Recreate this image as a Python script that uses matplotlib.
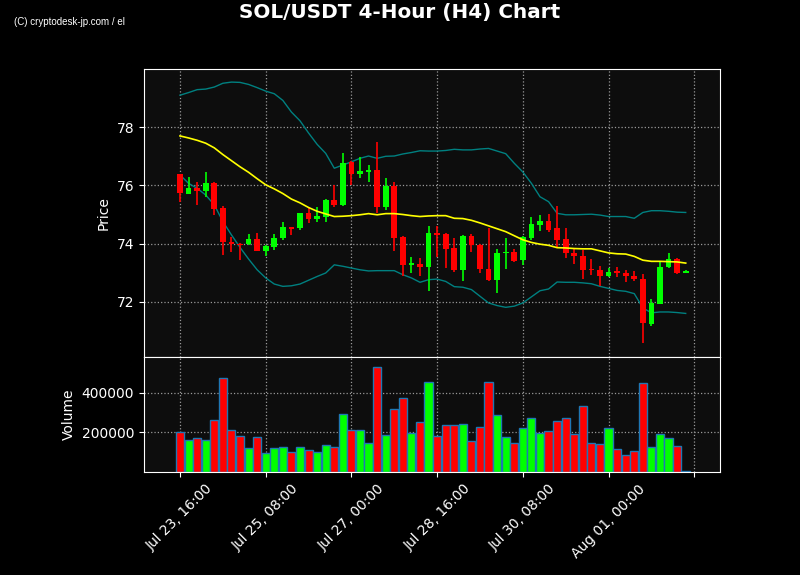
"""
SOL/USDT 4-hour candlestick chart with Bollinger bands, moving average and volume.
"""
import numpy as np
import pandas as pd
import matplotlib
matplotlib.use("Agg")
import matplotlib.pyplot as plt

START = "2025-07-23 16:00"

OPEN = [76.39, 75.72, 75.91, 75.82, 76.08, 75.23, 74.06, 74.00, 73.97, 74.16,
        73.76, 73.90, 74.18, 74.57, 74.52, 75.05, 74.85, 74.93, 75.50, 75.34,
        76.80, 76.40, 76.47, 76.53, 75.27, 75.99, 74.24, 73.27, 73.31, 73.18,
        74.38, 74.34, 73.86, 73.08, 74.27, 73.96, 73.14, 72.74, 73.68, 73.72,
        73.42, 74.20, 74.65, 74.79, 74.54, 74.16, 73.67, 73.58, 73.14, 73.10,
        72.87, 73.05, 73.00, 72.90, 72.79, 71.22, 71.94, 73.19, 73.47, 72.99]
HIGH = [76.40, 76.28, 76.13, 76.45, 76.10, 75.29, 74.22, 74.01, 74.34, 74.36,
        73.95, 74.34, 74.74, 74.58, 75.06, 75.22, 75.27, 75.52, 76.01, 77.10,
        76.83, 76.98, 76.69, 77.50, 76.24, 76.13, 74.26, 73.55, 73.50, 74.59,
        74.59, 74.36, 74.18, 74.30, 74.34, 73.98, 74.53, 73.81, 74.19, 73.83,
        74.25, 74.92, 74.99, 75.02, 75.29, 74.53, 73.81, 73.79, 73.47, 73.23,
        73.15, 73.20, 73.10, 73.06, 72.94, 72.10, 73.38, 73.67, 73.52, 73.09]
LOW = [75.43, 75.70, 75.32, 75.61, 74.98, 73.61, 73.71, 73.45, 73.95, 73.75,
       73.56, 73.79, 74.14, 74.29, 74.47, 74.72, 74.73, 74.73, 75.26, 75.30,
       76.01, 76.26, 76.13, 75.04, 75.16, 73.75, 72.87, 72.98, 72.87, 72.37,
       73.54, 73.16, 73.01, 72.72, 73.71, 72.99, 72.72, 72.30, 73.13, 73.38,
       73.27, 74.13, 74.43, 74.39, 73.90, 73.50, 73.31, 72.78, 72.92, 72.55,
       72.85, 72.85, 72.67, 72.72, 70.59, 71.16, 71.92, 73.17, 72.96, 72.98]
CLOSE = [75.75, 75.91, 75.82, 76.08, 75.20, 74.04, 73.97, 73.94, 74.16, 73.76,
         73.92, 74.20, 74.56, 74.51, 75.05, 74.85, 74.95, 75.50, 75.34, 76.77,
         76.40, 76.49, 76.53, 75.27, 75.99, 74.18, 73.27, 73.32, 73.18, 74.37,
         74.31, 73.83, 73.08, 74.27, 73.94, 73.11, 72.74, 73.68, 73.72, 73.40,
         74.23, 74.68, 74.79, 74.47, 74.13, 73.67, 73.56, 73.08, 73.08, 72.87,
         73.03, 72.98, 72.87, 72.78, 71.26, 71.96, 73.19, 73.47, 72.99, 73.07]
VOLUME = [203e3, 163e3, 173e3, 160e3, 263e3, 473e3, 213e3, 183e3, 120e3, 178e3,
          98e3, 123e3, 128e3, 103e3, 128e3, 113e3, 103e3, 138e3, 128e3, 293e3,
          213e3, 213e3, 148e3, 528e3, 188e3, 318e3, 373e3, 198e3, 253e3, 453e3,
          183e3, 238e3, 238e3, 243e3, 158e3, 228e3, 453e3, 288e3, 178e3, 148e3,
          223e3, 273e3, 198e3, 208e3, 258e3, 273e3, 193e3, 333e3, 148e3, 143e3,
          223e3, 118e3, 88e3, 108e3, 448e3, 128e3, 193e3, 173e3, 133e3, 4e3]

MA = [77.70, 77.63, 77.55, 77.45, 77.29, 77.06, 76.85, 76.64, 76.45, 76.23,
      76.02, 75.88, 75.72, 75.53, 75.40, 75.24, 75.11, 75.02, 74.93, 74.94,
      74.96, 74.99, 75.03, 74.99, 75.03, 75.03, 75.00, 74.96, 74.93, 74.95,
      74.96, 74.96, 74.87, 74.86, 74.80, 74.71, 74.61, 74.51, 74.41, 74.27,
      74.13, 74.04, 73.98, 73.94, 73.86, 73.85, 73.83, 73.82, 73.82, 73.75,
      73.68, 73.65, 73.64, 73.56, 73.43, 73.39, 73.39, 73.38, 73.37, 73.33]
UPPER = [79.10, 79.19, 79.29, 79.31, 79.38, 79.51, 79.55, 79.54, 79.47, 79.36,
         79.24, 79.15, 78.92, 78.52, 78.22, 77.80, 77.41, 77.10, 76.59, 76.70,
         76.81, 76.93, 77.01, 76.93, 77.00, 77.01, 77.08, 77.13, 77.19, 77.18,
         77.18, 77.20, 77.24, 77.22, 77.22, 77.25, 77.27, 77.18, 77.09, 76.76,
         76.46, 76.07, 75.61, 75.44, 75.04, 74.99, 74.99, 75.00, 75.01, 74.98,
         74.93, 74.93, 74.93, 74.87, 75.07, 75.13, 75.13, 75.11, 75.08, 75.07]
LOWER = [76.36, 76.07, 75.90, 75.67, 75.33, 74.76, 74.30, 73.87, 73.47, 73.10,
         72.82, 72.61, 72.53, 72.55, 72.61, 72.74, 72.87, 72.99, 73.27, 73.22,
         73.16, 73.10, 73.06, 73.07, 73.07, 73.07, 72.93, 72.82, 72.67, 72.76,
         72.78, 72.70, 72.52, 72.50, 72.42, 72.19, 71.96, 71.87, 71.81, 71.85,
         71.96, 72.17, 72.38, 72.44, 72.68, 72.67, 72.67, 72.65, 72.62, 72.53,
         72.46, 72.39, 72.36, 72.28, 71.79, 71.62, 71.65, 71.65, 71.63, 71.60]

UP_COLOR = "#00ff00"
DOWN_COLOR = "#ff0000"
BG = "#0d0d0d"

dates = pd.date_range(START, periods=len(CLOSE), freq="4h")
x = np.arange(len(CLOSE))
o, h, l, c = map(np.array, (OPEN, HIGH, LOW, CLOSE))
up = c >= o
colors = np.where(up, UP_COLOR, DOWN_COLOR)

fig = plt.figure(figsize=(8, 5.75), dpi=100, facecolor="black")
ax = fig.add_axes([0.18, 0.379, 0.72, 0.501])
axv = fig.add_axes([0.18, 0.179, 0.72, 0.200], sharex=ax)

for a in (ax, axv):
    a.set_facecolor(BG)
    for s in a.spines.values():
        s.set_color("white")
    a.tick_params(colors="white", labelsize=10)
    a.grid(True, linestyle=":", color="#999999", linewidth=0.9)
    a.set_axisbelow(True)

# candles
ax.vlines(x, l, h, colors=colors, linewidth=1.2, zorder=2)
ax.bar(x, np.abs(c - o), bottom=np.minimum(o, c), width=0.66,
       color=colors, zorder=3)
ax.plot(x, UPPER, color="#008080", linewidth=1, zorder=1)
ax.plot(x, LOWER, color="#008080", linewidth=1, zorder=1)
ax.plot(x, MA, color="#ffff00", linewidth=1.2, zorder=4)

ax.set_ylim(70.1, 80.0)
ax.set_yticks([72, 74, 76, 78])
ax.set_ylabel("Price", color="white", fontsize=10)
ax.tick_params(axis="x", labelbottom=False, length=0)

# volume
axv.bar(x, VOLUME, width=0.95, color=colors, edgecolor="#1f77b4", linewidth=1)
axv.set_ylim(0, 580000)
axv.set_yticks([200000, 400000])
axv.set_yticklabels(["200000", "400000"])
axv.set_ylabel("Volume", color="white", fontsize=10)

ticks = np.arange(0, 61, 10)
labels = [dates[i].strftime("%b %d, %H:%M") if i < len(dates) else "" for i in ticks]
axv.set_xticks(ticks)
axv.set_xticklabels(labels, rotation=45)
axv.set_xlim(-4.2, 63.0)

fig.suptitle("SOL/USDT 4-Hour (H4) Chart", color="white", fontsize=14.4,
             fontweight="bold", y=0.995)
fig.text(0.018, 0.956, "(C) cryptodesk-jp.com / el", color="white", fontsize=7,
         family="Liberation Sans")

fig.savefig("out.png", dpi=100, facecolor="black")
